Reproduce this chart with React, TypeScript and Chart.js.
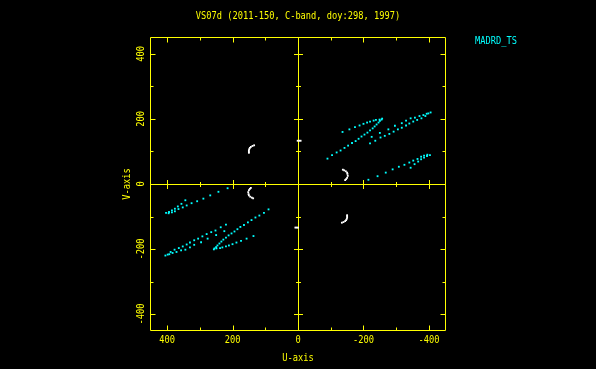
import React, { useEffect, useRef } from "react";
import { Chart, registerables } from "chart.js";

Chart.register(...registerables);

const TITLE = "VS07d (2011-150, C-band, doy:298, 1997)";
const LEGEND_LABEL = "MADRD_TS";
const X_TITLE = "U-axis";
const Y_TITLE = "V-axis";
const U_MAJOR_TICKS = [400, 200, 0, -200, -400];
const V_MAJOR_TICKS = [-400, -200, 0, 200, 400];
const U_MINOR_TICKS = [300, 100, -100, -300];
const V_MINOR_TICKS = [-300, -100, 100, 300];
const AXIS_MIN = -452;
const AXIS_MAX = 452;

const YELLOW = "#ffff00";
const CYAN = "#00ffff";
const WHITE = "#ffffff";

// MADRD_TS coverage (cyan), upper half (V > 0)
const CYAN_UPPER_U = [
  -90, -104, -118, -130, -142, -153, -165, -176, -185, -194, -203, -212, -220, -228, -234, -240, -246, -250, -255, -257,
  -249, -238, -231, -220, -211, -200, -188, -174, -157, -136,
  -220, -236, -252, -265, -279, -292, -305, -317, -330, -340, -352, -364, -377, -389, -398, -405,
  -225, -250, -276, -296, -317, -330, -344, -357, -371, -383, -393,
  -215, -243, -268, -289, -308, -344, -356, -367, -376, -385, -394, -403, -325, -340, -352, -365, -376, -385, -395,
];
const CYAN_UPPER_V = [
  78, 89, 97, 103, 111, 118, 126, 132, 139, 146, 152, 158, 165, 171, 177, 183, 189, 194, 198, 201,
  198, 197, 195, 192, 189, 185, 180, 175, 168, 160,
  125, 133, 143, 148, 154, 161, 168, 173, 180, 186, 192, 197, 202, 209, 217, 220,
  145, 157, 168, 179, 187, 195, 202, 204, 209, 212, 216,
  13, 24, 35, 45, 53, 50, 61, 69, 76, 81, 86, 89, 59, 66, 72, 77, 84, 87, 90,
];
// conjugate points, lower half (V < 0)
const CYAN_LOWER_U = [
  90, 104, 118, 130, 142, 153, 165, 176, 185, 194, 203, 212, 220, 228, 234, 240, 246, 250, 255, 257,
  249, 238, 231, 220, 211, 200, 188, 174, 157, 136,
  220, 236, 252, 265, 279, 292, 305, 317, 330, 340, 352, 364, 377, 389, 398, 405,
  225, 250, 276, 296, 317, 330, 344, 357, 371, 383, 393,
  215, 243, 268, 289, 308, 344, 356, 367, 376, 385, 394, 403, 325, 340, 352, 365, 376, 385, 395,
];
const CYAN_LOWER_V = [
  -78, -89, -97, -103, -111, -118, -126, -132, -139, -146, -152, -158, -165, -171, -177, -183, -189, -194, -198, -201,
  -198, -197, -195, -192, -189, -185, -180, -175, -168, -160,
  -125, -133, -143, -148, -154, -161, -168, -173, -180, -186, -192, -197, -202, -209, -217, -220,
  -145, -157, -168, -179, -187, -195, -202, -204, -209, -212, -216,
  -13, -24, -35, -45, -53, -50, -61, -69, -76, -81, -86, -89, -59, -66, -72, -77, -84, -87, -90,
];

// other baselines (white)
const WHITE_U = [
  134, 139, 144, 147, 149, 150, 150, 150,
  -134, -139, -144, -147, -149, -150, -150, -150,
  144, 147, 150, 152, 151, 150, 146, 141, 137,
  -144, -147, -150, -152, -151, -150, -146, -141, -137,
  1, -4, -8,
  8, 4, 0,
];
const WHITE_V = [
  119, 117, 114, 111, 107, 103, 99, 96,
  -119, -117, -114, -111, -107, -103, -99, -96,
  -12, -15, -19, -25, -31, -35, -39, -42, -44,
  12, 15, 19, 25, 31, 35, 39, 42, 44,
  133, 133, 133,
  -134, -134, -134,
];

const FONT = '10px "DejaVu Sans Mono", monospace';
const TEXT_SQUEEZE = 0.87;

const toPoints = (us: number[], vs: number[]) => us.map((u, i) => ({ x: u, y: vs[i] }));

const drawText = (ctx: CanvasRenderingContext2D, text: string, x: number, y: number, rot = 0) => {
  ctx.save();
  ctx.translate(x, y);
  if (rot) ctx.rotate(rot);
  ctx.scale(TEXT_SQUEEZE, 1);
  ctx.fillText(text, 0, 0);
  ctx.restore();
};

const pgAxesPlugin = {
  id: "pgAxes",
  beforeDatasetsDraw(chart: any) {
    const { ctx, chartArea: a, scales } = chart;
    const xs = scales.x;
    const ys = scales.y;
    const px = (v: number) => Math.round(xs.getPixelForValue(v)) + 0.5;
    const py = (v: number) => Math.round(ys.getPixelForValue(v)) + 0.5;
    const L = a.left + 0.5;
    const R = a.right - 0.5;
    const T = a.top + 0.5;
    const B = a.bottom - 0.5;
    const x0 = px(0);
    const y0 = py(0);
    ctx.save();
    ctx.strokeStyle = YELLOW;
    ctx.lineWidth = 1;
    ctx.beginPath();
    ctx.rect(L, T, R - L, B - T);
    ctx.moveTo(x0, T);
    ctx.lineTo(x0, B);
    ctx.moveTo(L, y0);
    ctx.lineTo(R, y0);
    const tickX = (v: number, len: number, c: number) => {
      const x = px(v);
      ctx.moveTo(x, T);
      ctx.lineTo(x, T + len);
      ctx.moveTo(x, B);
      ctx.lineTo(x, B - len);
      ctx.moveTo(x, y0 - c);
      ctx.lineTo(x, y0 + c);
    };
    const tickY = (v: number, len: number, c: number) => {
      const y = py(v);
      ctx.moveTo(L, y);
      ctx.lineTo(L + len, y);
      ctx.moveTo(R, y);
      ctx.lineTo(R - len, y);
      ctx.moveTo(x0 - c, y);
      ctx.lineTo(x0 + c, y);
    };
    U_MAJOR_TICKS.forEach((v) => tickX(v, 5, 4.5));
    U_MINOR_TICKS.forEach((v) => tickX(v, 3, 2.5));
    V_MAJOR_TICKS.forEach((v) => tickY(v, 5, 4.5));
    V_MINOR_TICKS.forEach((v) => tickY(v, 3, 2.5));
    ctx.stroke();
    ctx.restore();
  },
  afterDraw(chart: any) {
    const { ctx, chartArea: a, scales } = chart;
    const xs = scales.x;
    const ys = scales.y;
    ctx.save();
    ctx.font = FONT;
    ctx.fillStyle = YELLOW;
    ctx.textAlign = "center";
    ctx.textBaseline = "middle";
    drawText(ctx, TITLE, (a.left + a.right) / 2, 16.5);
    U_MAJOR_TICKS.forEach((v) => {
      drawText(ctx, String(v), xs.getPixelForValue(v), a.bottom + 9.5);
    });
    drawText(ctx, X_TITLE, (a.left + a.right) / 2, a.bottom + 27.5);
    V_MAJOR_TICKS.forEach((v) => {
      drawText(ctx, String(v), a.left - 9, ys.getPixelForValue(v), -Math.PI / 2);
    });
    drawText(ctx, Y_TITLE, a.left - 22.5, (a.top + a.bottom) / 2, -Math.PI / 2);
    ctx.fillStyle = CYAN;
    ctx.textAlign = "left";
    drawText(ctx, LEGEND_LABEL, a.right + 29, 41);
    ctx.restore();
  },
};

export default function App() {
  const canvasRef = useRef<HTMLCanvasElement | null>(null);

  useEffect(() => {
    const canvas = canvasRef.current;
    if (!canvas) return;
    const chart = new Chart(canvas, {
      type: "scatter",
      data: {
        datasets: [
          {
            label: "other",
            data: toPoints(WHITE_U, WHITE_V),
            backgroundColor: WHITE,
            borderColor: WHITE,
          },
          {
            label: LEGEND_LABEL,
            data: [...toPoints(CYAN_UPPER_U, CYAN_UPPER_V), ...toPoints(CYAN_LOWER_U, CYAN_LOWER_V)],
            backgroundColor: CYAN,
            borderColor: CYAN,
          },
        ],
      },
      options: {
        animation: false,
        responsive: false,
        devicePixelRatio: 1,
        events: [],
        layout: { padding: { left: 150, top: 37, right: 150, bottom: 38 } },
        plugins: {
          legend: { display: false },
          title: { display: false },
          tooltip: { enabled: false },
        },
        elements: {
          point: { pointStyle: "rect", radius: 1.3, borderWidth: 0, hoverRadius: 1.3 },
        },
        scales: {
          x: { type: "linear", min: AXIS_MIN, max: AXIS_MAX, reverse: true, display: false },
          y: { type: "linear", min: AXIS_MIN, max: AXIS_MAX, display: false },
        },
      },
      plugins: [pgAxesPlugin],
    });
    return () => chart.destroy();
  }, []);

  return (
    <div style={{ position: "fixed", left: 0, top: 0, width: 596, height: 369, background: "#000" }}>
      <canvas ref={canvasRef} width={596} height={369} style={{ display: "block" }} />
    </div>
  );
}
